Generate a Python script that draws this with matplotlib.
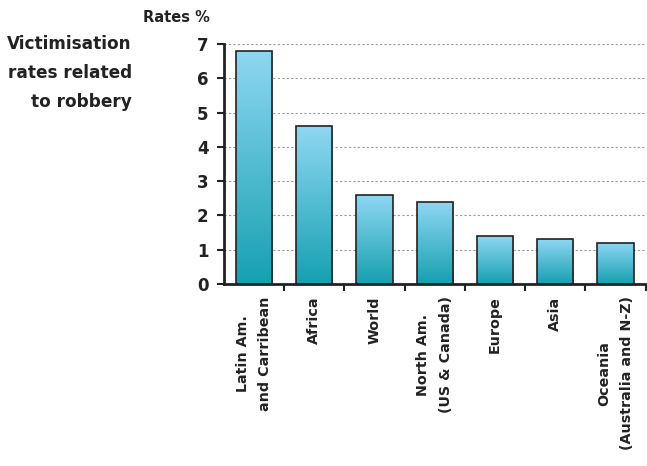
import numpy as np
import matplotlib
matplotlib.use('Agg')
from matplotlib import pyplot as plt
from matplotlib.colors import LinearSegmentedColormap

# robbery victimisation rates by region (%)
regions = ['Latin Am.\nand Carribean', 'Africa', 'World', 'North Am.\n(US & Canada)',
           'Europe', 'Asia', 'Oceania\n(Australia and N-Z)']
rates = [6.8, 4.6, 2.6, 2.4, 1.4, 1.3, 1.2]
yticks = [0, 1, 2, 3, 4, 5, 6, 7]

plt.rcParams['font.family'] = ['DejaVu Sans']
plt.rcParams['font.weight'] = 'bold'
plt.rcParams['text.color'] = '#222222'

fig = plt.figure(figsize=(6.47, 4.66), dpi=100)
ax = fig.add_axes([0.346, 0.3906, 0.652, 0.515])

x = np.arange(len(regions))
bars = ax.bar(x, rates, width=0.6, color='none', edgecolor='#222222', linewidth=1.2, zorder=3)

# vertical gradient inside each bar
cmap = LinearSegmentedColormap.from_list('blu', ['#16a0b0', '#8fd7f3'])
grad = np.linspace(0, 1, 256).reshape(-1, 1)
for b in bars:
    x0, w, h = b.get_x(), b.get_width(), b.get_height()
    im = ax.imshow(grad, cmap=cmap, origin='lower', aspect='auto',
                   extent=[x0, x0 + w, 0, h], zorder=2)
    im.set_clip_path(b)

ax.set_xlim(-0.5, len(regions) - 0.5)
ax.set_ylim(0, 7)
ax.set_yticks(yticks)
ax.set_yticklabels([str(v) for v in yticks], fontsize=12, fontweight='bold', color='#222222')
ax.yaxis.grid(True, linestyle=(0, (2, 2)), color='#999999', linewidth=0.8, zorder=0)

ax.set_xticks(x)
ax.set_xticklabels(regions, rotation=90, fontsize=10.3, fontweight='bold', ha='center', va='top',
                   multialignment='center', color='#222222', linespacing=1.8)
ax.tick_params(axis='x', which='major', length=0, pad=9)
ax.set_xticks(np.arange(len(regions)) + 0.5, minor=True)
ax.tick_params(axis='x', which='minor', length=5, width=1.5, direction='out', color='#222222')
ax.tick_params(axis='y', length=5, width=1.5, direction='out', pad=6, color='#222222')

for s in ['top', 'right']:
    ax.spines[s].set_visible(False)
for s in ['left', 'bottom']:
    ax.spines[s].set_linewidth(2)
    ax.spines[s].set_color('#222222')

fig.text(0.221, 0.962, 'Rates %', fontsize=10.5, fontweight='bold', ha='left', va='center')
fig.text(0.204, 0.925, 'Victimisation\nrates related\nto robbery', fontsize=12.2, fontweight='bold',
         ha='right', va='top', linespacing=1.8)

fig.savefig('out.png', dpi=100)
